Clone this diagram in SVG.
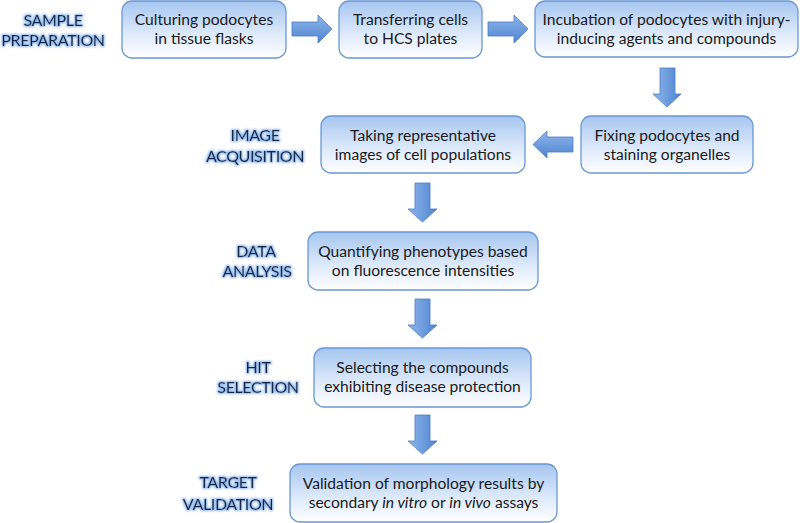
<svg xmlns="http://www.w3.org/2000/svg" width="800" height="523" viewBox="0 0 800 523">
<defs>
<linearGradient id="boxg" x1="0" y1="0" x2="0" y2="1">
<stop offset="0" stop-color="#a6c6f0"/>
<stop offset="0.55" stop-color="#dbe8fa"/>
<stop offset="1" stop-color="#ffffff"/>
</linearGradient>
<linearGradient id="arrh" x1="0" y1="0" x2="0" y2="1">
<stop offset="0" stop-color="#8fb6ec"/>
<stop offset="1" stop-color="#4f84d0"/>
</linearGradient>
<linearGradient id="arrv" x1="0" y1="0" x2="1" y2="0">
<stop offset="0" stop-color="#8fb6ec"/>
<stop offset="1" stop-color="#4f84d0"/>
</linearGradient>
<filter id="glow" x="-20%" y="-40%" width="140%" height="180%">
<feMorphology in="SourceAlpha" operator="dilate" radius="1" result="d"/>
<feGaussianBlur in="d" stdDeviation="1.2" result="b"/>
<feFlood flood-color="#8fb8ee"/>
<feComposite in2="b" operator="in" result="g"/>
<feMerge><feMergeNode in="g"/><feMergeNode in="SourceGraphic"/></feMerge>
</filter>
</defs>
<style>
.box{fill:url(#boxg);stroke:#6b97d4;stroke-width:1.3}
.t{font-family:Lato,"Open Sans","Liberation Sans",sans-serif;font-size:15.6px;fill:#1a1a1a;text-anchor:middle}
.lbl{font-family:Lato,"Open Sans","Liberation Sans",sans-serif;font-size:16px;letter-spacing:-0.4px;font-weight:500;fill:#172646;text-anchor:middle;filter:url(#glow)}
.ah{fill:url(#arrh);stroke:#4a7cc4;stroke-width:0.8}
.av{fill:url(#arrv);stroke:#4a7cc4;stroke-width:0.8}
</style>
<g id="stage-labels">
<text class="lbl" x="53" y="26">SAMPLE</text>
<text class="lbl" x="53" y="46">PREPARATION</text>
<text class="lbl" x="255" y="141">IMAGE</text>
<text class="lbl" x="255" y="162">ACQUISITION</text>
<text class="lbl" x="256" y="257">DATA</text>
<text class="lbl" x="257" y="277">ANALYSIS</text>
<text class="lbl" x="258" y="373">HIT</text>
<text class="lbl" x="258" y="393">SELECTION</text>
<text class="lbl" x="228" y="488">TARGET</text>
<text class="lbl" x="228" y="510">VALIDATION</text>
</g>
<g id="connectors">
<path class="ah" d="M292,22 H318 V15 L332,29 L318,43 V36 H292 Z"/>
<path class="ah" d="M488,22 H514 V15 L528,29 L514,43 V36 H488 Z"/>
<path class="av" d="M660,68 H675 V94 H681 L667,107 L653,94 H660 Z"/>
<path class="ah" d="M573,137 H547 V131 L533,144.5 L547,158 V152 H573 Z"/>
<path class="av" d="M415,183 H430 V209 H437 L422.5,222 L408,209 H415 Z"/>
<path class="av" d="M415,299 H430 V325 H437 L422.5,338 L408,325 H415 Z"/>
<path class="av" d="M415,415 H430 V441 H437 L422.5,454 L408,441 H415 Z"/>
</g>
<g id="n1">
<rect class="box" x="122" y="1" width="164" height="57" rx="10"/>
<text class="t" x="204" y="25">Culturing podocytes</text>
<text class="t" x="204" y="44">in tissue flasks</text>
</g>
<g id="n2">
<rect class="box" x="339" y="1" width="143" height="57" rx="10"/>
<text class="t" x="410.5" y="25">Transferring cells</text>
<text class="t" x="410.5" y="44">to HCS plates</text>
</g>
<g id="n3">
<rect class="box" x="535" y="1" width="263" height="56" rx="10"/>
<text class="t" x="666.5" y="25">Incubation of podocytes with injury-</text>
<text class="t" x="666.5" y="44">inducing agents and compounds</text>
</g>
<g id="n4">
<rect class="box" x="581" y="116" width="172" height="57" rx="10"/>
<text class="t" x="667" y="141">Fixing podocytes and</text>
<text class="t" x="667" y="160">staining organelles</text>
</g>
<g id="n5">
<rect class="box" x="321" y="116" width="204" height="57" rx="10"/>
<text class="t" x="423" y="141">Taking representative</text>
<text class="t" x="423" y="160">images of cell populations</text>
</g>
<g id="n6">
<rect class="box" x="308" y="232" width="230" height="58" rx="10"/>
<text class="t" x="423" y="257">Quantifying phenotypes based</text>
<text class="t" x="423" y="276">on fluorescence intensities</text>
</g>
<g id="n7">
<rect class="box" x="314" y="348" width="217" height="59" rx="10"/>
<text class="t" x="422.5" y="373">Selecting the compounds</text>
<text class="t" x="422.5" y="392">exhibiting disease protection</text>
</g>
<g id="n8">
<rect class="box" x="290" y="464" width="267" height="58" rx="10"/>
<text class="t" x="423.5" y="489">Validation of morphology results by</text>
<text class="t" x="423.5" y="508">secondary <tspan font-style="italic">in vitro</tspan> or <tspan font-style="italic">in vivo</tspan> assays</text>
</g>
</svg>
